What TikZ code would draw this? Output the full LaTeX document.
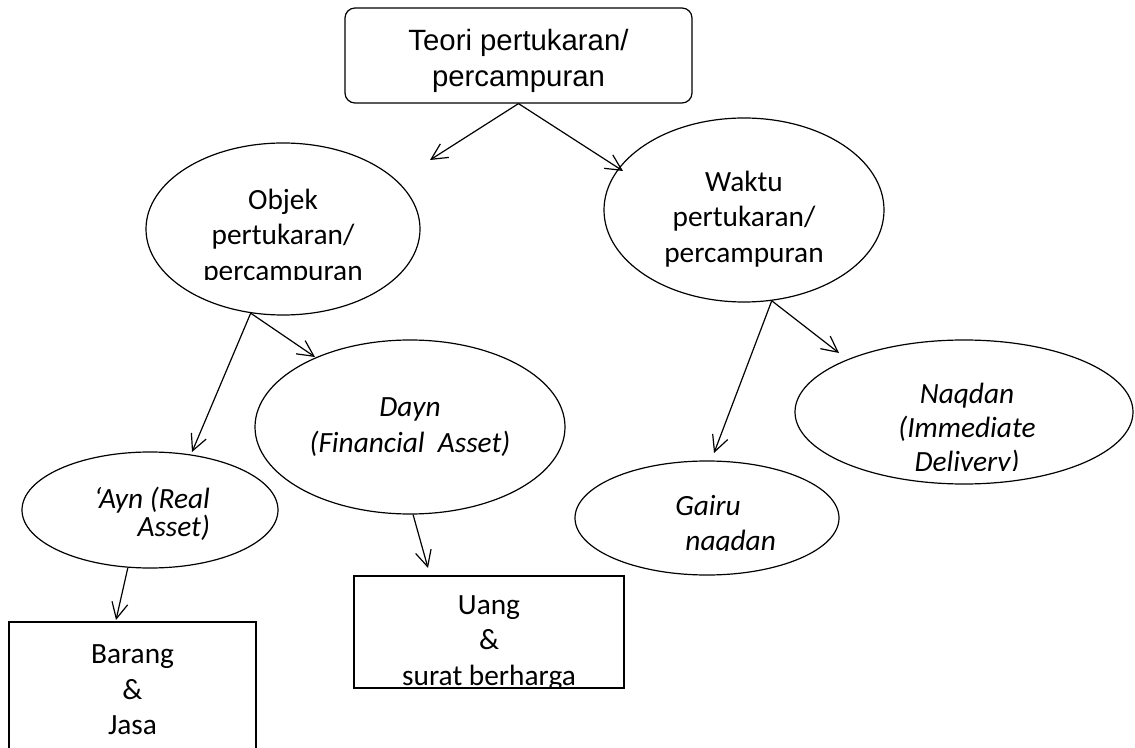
\documentclass[tikz,border=0pt]{standalone}
\usepackage{fontspec}
\setmainfont{Carlito}
\newfontfamily\arialfont{Liberation Sans}
\usetikzlibrary{arrows.meta,shapes.geometric}
\newcommand{\pxu}{0.75pt}
\tikzset{
  arr/.style={-{Straight Barb[length=12pt,width=12pt]},line width=0.9pt},
  ovalbox/.style={draw,ellipse,line width=0.9pt,inner sep=0pt},
  rectbox/.style={draw,line width=0.9pt,inner sep=0pt},
  bodytext/.style={font=\fontsize{22}{26.5}\selectfont,align=center,inner sep=0pt},
  slanttext/.style={font=\fontsize{22}{26.5}\selectfont\itshape,align=center,inner sep=0pt}
}

\begin{document}
\begin{tikzpicture}[x=\pxu,y=-\pxu]
  \clip (0,0) rectangle (1135,748);
  % top box
  \node[rectbox,rounded corners=7.5pt,minimum width=347*\pxu,minimum height=95*\pxu] (teori) at (518.5,55.5) {};
  \node[font=\arialfont\fontsize{22}{27}\selectfont,align=center,inner sep=0pt] (teoritext) at (518.5,61)
        {Teori pertukaran/\\percampuran};
  % second level
  \node[ovalbox,minimum width=274*\pxu,minimum height=172*\pxu] (objek) at (283,229) {};
  \begin{scope}
    \clip (140,140) rectangle (430,280);
    \node[bodytext] (objektext) at (283,237) {Objek\\pertukaran/\\percampuran};
  \end{scope}
  \node[ovalbox,minimum width=280*\pxu,minimum height=184*\pxu] (waktu) at (744,210) {};
  \begin{scope}
    \clip (600,115) rectangle (890,267);
    \node[bodytext] (waktutext) at (744,219) {Waktu\\pertukaran/\\percampuran};
  \end{scope}
  % third level
  \node[ovalbox,slanttext,font=\fontsize{22}{27.5}\selectfont\itshape,
        minimum width=310*\pxu,minimum height=174*\pxu] (dayn) at (410,427)
        {Dayn\\(Financial\ \ Asset)};
  \node[ovalbox,minimum width=256*\pxu,minimum height=116*\pxu] (ayn) at (150,510) {};
  \begin{scope}
    \clip (20,450) rectangle (280,542);
    \node[slanttext,align=right,font=\fontsize{22}{21}\selectfont\itshape] (ayntext) at (152,514)
          {‘Ayn (Real\\Asset)};
  \end{scope}
  \node[ovalbox,minimum width=264*\pxu,minimum height=114*\pxu] (gairu) at (707,518) {};
  \begin{scope}
    \clip (570,460) rectangle (845,550);
    \node[slanttext] (gairutext) at (708,525) {Gairu\\\hspace*{34pt}naqdan};
  \end{scope}
  \node[ovalbox,minimum width=338*\pxu,minimum height=144*\pxu] (naqdan) at (964,412) {};
  \begin{scope}
    \clip (790,335) rectangle (1135,470);
    \node[slanttext,font=\fontsize{22}{25.5}\selectfont\itshape] (naqdantext) at (967,430)
          {Naqdan\\(Immediate\\Delivery)};
  \end{scope}
  % bottom boxes
  \node[rectbox,bodytext,minimum width=247*\pxu,minimum height=136*\pxu] (barang) at (132.5,690)
        {Barang\\\&\\Jasa};
  \node[rectbox,minimum width=270*\pxu,minimum height=112*\pxu] (uang) at (489,632) {};
  \begin{scope}
    \clip (350,570) rectangle (630,686);
    \node[bodytext] (uangtext) at (489,643) {Uang\\\&\\surat berharga};
  \end{scope}
  % arrow tips
  \coordinate (objekin) at (430,160);
  \coordinate (waktuin) at (623,171);
  \coordinate (aynin) at (192,452);
  \coordinate (daynin) at (315,357);
  \coordinate (gairuin) at (714,453);
  \coordinate (naqdanin) at (839,353);
  \coordinate (barangin) at (116,620);
  \coordinate (uangin) at (428,568);
  \draw[arr] (teori.south) -- (objekin);
  \draw[arr] (teori.south) -- (waktuin);
  \draw[arr] (objek.249) -- (aynin);
  \draw[arr] (objek.249) -- (daynin);
  \draw[arr] (waktu.287) -- (gairuin);
  \draw[arr] (waktu.287) -- (naqdanin);
  \draw[arr] (ayn.249) -- (barangin);
  \draw[arr] (dayn.272) -- (uangin);
\end{tikzpicture}
\end{document}
